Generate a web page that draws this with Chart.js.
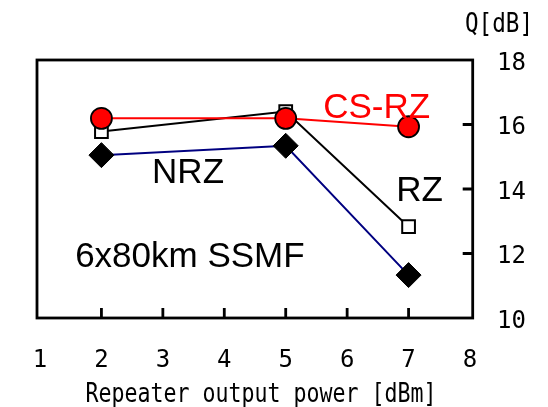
<!DOCTYPE html>
<html>
<head>
<meta charset="utf-8">
<script src="https://cdn.jsdelivr.net/npm/chart.js@4"></script>
<style>
html,body{margin:0;padding:0;background:#fff;}
#wrap{width:548px;height:407px;position:relative;}
</style>
</head>
<body>
<div id="wrap"><canvas id="c" width="548" height="407"></canvas></div>
<script>
// ---- data ----
const powers = [2, 5, 7];               // repeater output power [dBm]
const csrzQ = [16.19, 16.19, 15.93];    // CS-RZ
const rzQ   = [15.78, 16.40, 12.83];    // RZ
const nrzQ  = [15.05, 15.34, 11.33];    // NRZ
const xTickValues = [1, 2, 3, 4, 5, 6, 7, 8];
const yTickValues = [10, 12, 14, 16, 18];
const seriesNames = ['CS-RZ', 'RZ', 'NRZ'];
const xTitle = 'Repeater output power [dBm]';
const yTitle = 'Q[dB]';
const noteText = '6x80km SSMF';

const toPts = (ys) => powers.map((p, i) => ({x: p, y: ys[i]}));

// text labels placed in data coordinates (baseline)
const labels = [
  {text: seriesNames[0], x: 6.48, y: 16.19, color: '#ff0000'},
  {text: seriesNames[2], x: 3.41, y: 14.18, color: '#000000'},
  {text: seriesNames[1], x: 7.18, y: 13.62, color: '#000000'},
  {text: noteText, x: 3.44, y: 11.57, color: '#000000'}
];

function condensedText(ctx, text, cx, baseline, size, sx) {
  ctx.save();
  ctx.font = size + 'px "DejaVu Sans Mono", monospace';
  ctx.textAlign = 'center';
  ctx.textBaseline = 'alphabetic';
  ctx.translate(cx, baseline);
  ctx.scale(sx, 1);
  ctx.fillText(text, 0, 0);
  ctx.restore();
}

const framePlugin = {
  id: 'frame',
  beforeDatasetsDraw(chart) {
    const {ctx, chartArea: a, scales: {x, y}} = chart;
    ctx.save();
    ctx.strokeStyle = '#000';
    ctx.lineWidth = 2.8;
    const L = a.left - 3, R = a.right + 2.7;
    ctx.strokeRect(L, a.top, R - L, a.bottom - a.top);
    ctx.beginPath();
    xTickValues.forEach(v => {
      if (v > x.min && v < x.max) {
        const px = x.getPixelForValue(v);
        ctx.moveTo(px, a.bottom);
        ctx.lineTo(px, a.bottom - 10);
      }
    });
    yTickValues.forEach(v => {
      if (v > y.min && v < y.max) {
        const py = y.getPixelForValue(v);
        ctx.moveTo(R, py);
        ctx.lineTo(R - 10, py);
      }
    });
    ctx.stroke();
    ctx.restore();
  },
  afterDraw(chart) {
    const {ctx, scales: {x, y}} = chart;
    ctx.save();
    ctx.font = '35px "Liberation Sans", Arial, sans-serif';
    ctx.textAlign = 'center';
    ctx.textBaseline = 'alphabetic';
    labels.forEach(l => {
      ctx.fillStyle = l.color;
      ctx.fillText(l.text, x.getPixelForValue(l.x), y.getPixelForValue(l.y));
    });
    ctx.fillStyle = '#000';
    condensedText(ctx, yTitle, y.left + 29, 32, 26, 0.87);
    condensedText(ctx, xTitle, (x.left + x.right) / 2 + 6, 402, 26, 0.83);
    ctx.restore();
  }
};

new Chart(document.getElementById('c'), {
  type: 'line',
  data: {
    datasets: [
      {
        label: seriesNames[0], data: toPts(csrzQ),
        borderColor: '#ff0000', borderWidth: 2,
        pointStyle: 'circle', pointRadius: 10.5,
        pointBackgroundColor: '#ff0000', pointBorderColor: '#000', pointBorderWidth: 1.8
      },
      {
        label: seriesNames[1], data: toPts(rzQ),
        borderColor: '#000000', borderWidth: 2,
        pointStyle: 'rect', pointRadius: 9,
        pointBackgroundColor: '#ffffff', pointBorderColor: '#000', pointBorderWidth: 2
      },
      {
        label: seriesNames[2], data: toPts(nrzQ),
        borderColor: '#000080', borderWidth: 2,
        pointStyle: 'rectRot', pointRadius: 12.5,
        pointBackgroundColor: '#000000', pointBorderColor: '#000', pointBorderWidth: 1
      }
    ]
  },
  options: {
    responsive: false,
    animation: false,
    events: [],
    layout: {padding: {left: 40, top: 60, right: 0, bottom: 0}},
    plugins: {legend: {display: false}, tooltip: {enabled: false}},
    elements: {line: {tension: 0}},
    scales: {
      x: {
        type: 'linear', position: 'bottom', min: 1, max: 8,
        grid: {display: false, drawTicks: false},
        border: {display: false},
        afterBuildTicks: (s) => { s.ticks = xTickValues.map(v => ({value: v})); },
        afterFit: (s) => { s.height = 89; },
        ticks: {
          padding: 28, color: '#000', maxRotation: 0,
          font: {family: '"DejaVu Sans Mono", monospace', size: 24}
        },
        title: {display: false, text: xTitle}
      },
      y: {
        type: 'linear', position: 'right', min: 10, max: 18,
        grid: {display: false, drawTicks: false},
        border: {display: false},
        afterBuildTicks: (s) => { s.ticks = yTickValues.map(v => ({value: v})); },
        afterFit: (s) => { s.width = 78; },
        ticks: {
          padding: 27, color: '#000', labelOffset: 3.5,
          font: {family: '"DejaVu Sans Mono", monospace', size: 24}
        }
      }
    }
  },
  plugins: [framePlugin]
});
</script>
</body>
</html>
